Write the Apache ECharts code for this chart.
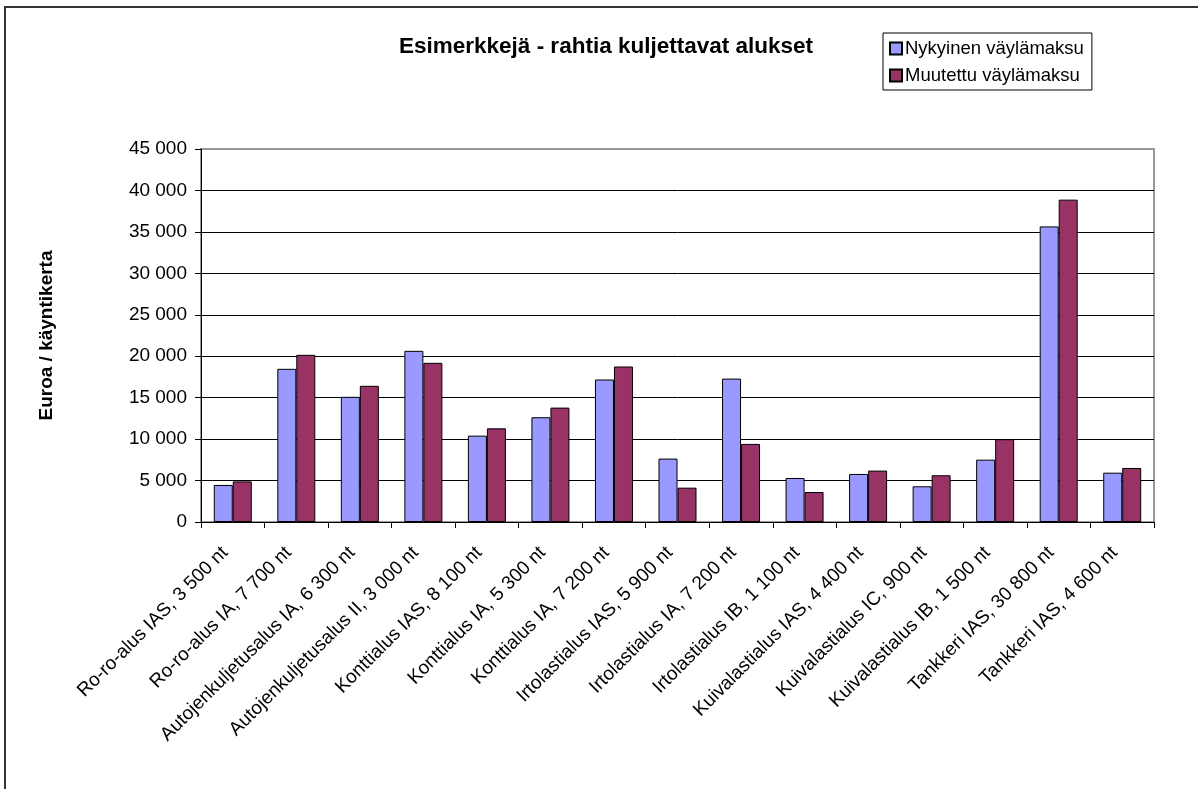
<!DOCTYPE html>
<html>
<head>
<meta charset="utf-8">
<script src="https://cdn.jsdelivr.net/npm/echarts@6/dist/echarts.min.js"></script>
<style>
  html, body { margin: 0; padding: 0; background: #fff; }
  #frame {
    position: absolute; left: 4px; top: 6px; width: 1194px; height: 783px;
    border-top: 2px solid #333; border-left: 2px solid #333; box-sizing: border-box;
  }
  #chart { position: absolute; left: 0; top: 0; width: 1198px; height: 789px; }
</style>
</head>
<body>
<div id="frame"></div>
<div id="chart"></div>
<script>
// Ships (category labels along the x axis)
const categories = [
  "Ro-ro-alus IAS, 3 500 nt",
  "Ro-ro-alus IA, 7 700 nt",
  "Autojenkuljetusalus IA, 6 300 nt",
  "Autojenkuljetusalus II, 3 000 nt",
  "Konttialus IAS, 8 100 nt",
  "Konttialus IA, 5 300 nt",
  "Konttialus IA, 7 200 nt",
  "Irtolastialus IAS, 5 900 nt",
  "Irtolastialus IA, 7 200 nt",
  "Irtolastialus IB, 1 100 nt",
  "Kuivalastialus IAS, 4 400 nt",
  "Kuivalastialus IC, 900 nt",
  "Kuivalastialus IB, 1 500 nt",
  "Tankkeri IAS, 30 800 nt",
  "Tankkeri IAS, 4 600 nt"
];

// Euro per visit
const nykyinen = [4470, 18480, 15100, 20650, 10420, 12640, 17190, 7650, 17300, 5310, 5800, 4310, 7520, 35660, 5950];
const muutettu = [4900, 20170, 16430, 19200, 11300, 13800, 18760, 4140, 9420, 3620, 6200, 5640, 9990, 38890, 6520];

const seriesNames = ["Nykyinen väylämaksu", "Muutettu väylämaksu"];
const seriesColors = ["#9999FF", "#993366"];

const font = "Arial, 'Liberation Sans', sans-serif";

// Finnish style thousands separator: "45 000"
function fmt(v) {
  return String(v).replace(/\B(?=(\d{3})+(?!\d))/g, " ");
}

// gridlines are black, the top one is the grey plot-area border
const gridColors = ["#000", "#000", "#000", "#000", "#000", "#000", "#000", "#000", "#000", "#999"];

const chart = echarts.init(document.getElementById("chart"), null, { renderer: "canvas" });

chart.setOption({
  animation: false,
  backgroundColor: "transparent",
  textStyle: { fontFamily: font, color: "#000" },
  title: {
    text: "Esimerkkejä - rahtia kuljettavat alukset",
    left: 601,
    top: 30,
    textAlign: "center",
    textStyle: { fontFamily: font, fontSize: 22.5, fontWeight: "bold", color: "#000" }
  },
  legend: {
    orient: "vertical",
    left: 883,
    top: 33,
    width: 210,
    padding: [6, 8, 5, 6],
    itemGap: 8,
    itemWidth: 12,
    itemHeight: 12,
    icon: "rect",
    borderColor: "#000",
    borderWidth: 1,
    textStyle: { fontFamily: font, fontSize: 18.5, color: "#000", padding: [0, 0, 0, -2] },
    data: seriesNames
  },
  grid: {
    left: 201,
    right: 44,
    top: 149,
    bottom: 267,
    show: true,
    borderColor: "#999",
    borderWidth: 2,
    containLabel: false
  },
  xAxis: {
    type: "category",
    data: categories,
    axisLine: { lineStyle: { color: "#000", width: 1 } },
    axisTick: { show: true, length: 6, lineStyle: { color: "#000" } },
    axisLabel: {
      rotate: 45,
      interval: 0,
      margin: 20,
      padding: [0, 11, 0, 0],
      fontFamily: font,
      fontSize: 19,
      color: "#000"
    }
  },
  yAxis: {
    type: "value",
    min: 0,
    max: 45000,
    interval: 5000,
    name: "Euroa / käyntikerta",
    nameLocation: "middle",
    nameRotate: 90,
    nameGap: 145,
    nameTextStyle: { fontFamily: font, fontSize: 19, fontWeight: "bold", color: "#000" },
    axisLine: { show: true, lineStyle: { color: "#000", width: 1 } },
    axisTick: { show: true, inside: false, length: 6, lineStyle: { color: "#000" } },
    axisLabel: { formatter: fmt, fontFamily: font, fontSize: 19, color: "#000", margin: 14 },
    splitLine: { show: true, lineStyle: { color: gridColors, width: 1 } }
  },
  series: [
    {
      name: seriesNames[0],
      type: "bar",
      data: nykyinen,
      barWidth: 19,
      barGap: "0%",
      itemStyle: { color: seriesColors[0], borderColor: "#000", borderWidth: 1 }
    },
    {
      name: seriesNames[1],
      type: "bar",
      data: muutettu,
      barWidth: 19,
      barGap: "0%",
      itemStyle: { color: seriesColors[1], borderColor: "#000", borderWidth: 1 }
    }
  ]
});
</script>
</body>
</html>
